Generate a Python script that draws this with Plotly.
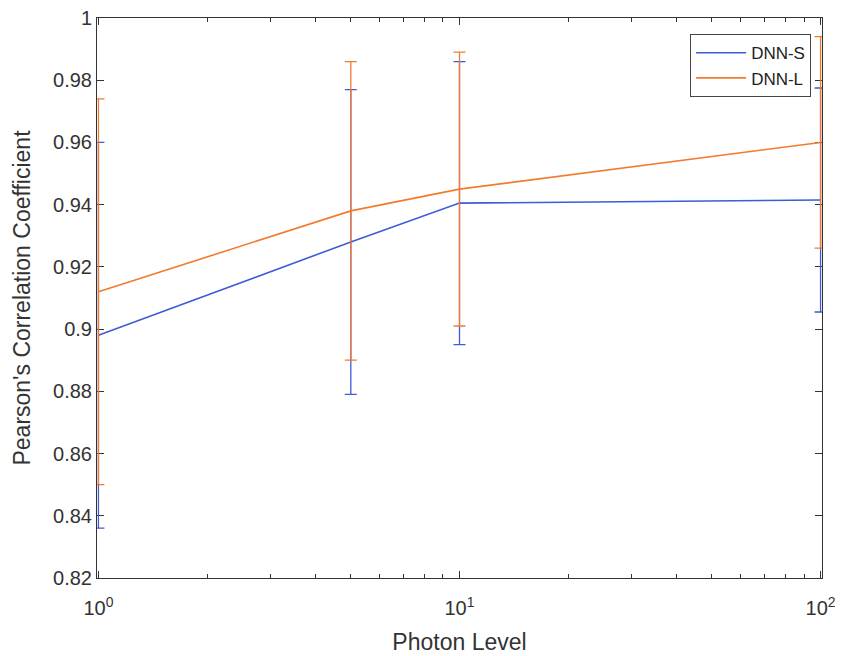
import plotly.graph_objects as go

photon = [1, 5, 10, 100]
s_mean = [0.898, 0.928, 0.9405, 0.9415]
s_err = [0.062, 0.049, 0.0455, 0.036]
l_mean = [0.912, 0.938, 0.945, 0.960]
l_err = [0.062, 0.048, 0.044, 0.034]

y_ticks = [0.82, 0.84, 0.86, 0.88, 0.9, 0.92, 0.94, 0.96, 0.98, 1]
y_labels = ["0.82", "0.84", "0.86", "0.88", "0.9", "0.92", "0.94", "0.96", "0.98", "1"]
x_ticks = [1, 10, 100]
x_labels = ["10<sup>0</sup>", "10<sup>1</sup>", "10<sup>2</sup>"]
x_minor = [2, 3, 4, 5, 6, 7, 8, 9, 20, 30, 40, 50, 60, 70, 80, 90]

blue = "#3f5bd8"
orange = "#f37a2c"
FONT = "Liberation Sans, Arial, sans-serif"

fig = go.Figure()
fig.add_trace(go.Scatter(
    x=photon, y=s_mean, mode="lines", name="DNN-S", cliponaxis=False,
    line=dict(color=blue, width=1.6),
    error_y=dict(type="data", array=s_err, visible=True, color=blue, thickness=1.3, width=6),
))
fig.add_trace(go.Scatter(
    x=photon, y=l_mean, mode="lines", name="DNN-L", cliponaxis=False,
    line=dict(color=orange, width=1.6),
    error_y=dict(type="data", array=l_err, visible=True, color=orange, thickness=1.3, width=6),
))

axis_common = dict(
    showline=True, linecolor="#333333", linewidth=1, mirror="ticks",
    ticks="inside", ticklen=7, tickcolor="#333333", showgrid=False, zeroline=False,
    tickfont=dict(size=20, color="#333333", family=FONT),
    automargin=False, layer="below traces", ticklabeloverflow="allow",
)

fig.update_layout(
    width=835, height=648,
    margin=dict(l=89, r=21, t=10, b=78),
    paper_bgcolor="white", plot_bgcolor="white",
    font=dict(family=FONT, color="#333333"),
    xaxis=dict(
        type="log", range=[-0.004, 2.004], tickmode="array", tickvals=x_ticks, ticktext=x_labels,
        ticklabelstandoff=12,
        title=dict(text="Photon Level", font=dict(size=23, color="#333333"), standoff=15),
        minor=dict(ticks="inside", ticklen=4, tickcolor="#333333", tickmode="array", tickvals=x_minor, showgrid=False),
        **axis_common,
    ),
    yaxis=dict(
        range=[0.82, 1], tickmode="array", tickvals=y_ticks, ticktext=y_labels,
        title=dict(text="Pearson's Correlation Coefficient", font=dict(size=23, color="#333333"), standoff=16),
        **axis_common,
    ),
    legend=dict(
        x=0.985, y=0.971, xanchor="right", yanchor="top",
        bgcolor="white", bordercolor="#444444", borderwidth=1,
        font=dict(size=17, color="#222222", family=FONT),
        tracegroupgap=0, itemwidth=50,
    ),
    showlegend=True,
)

fig.write_html("out.html")
